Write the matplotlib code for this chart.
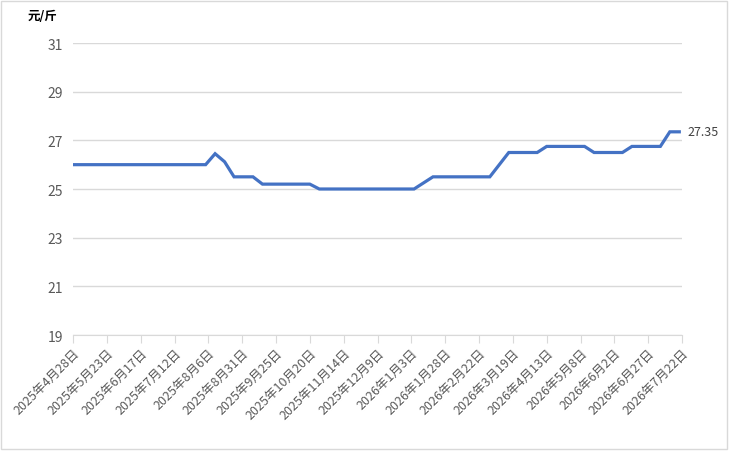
import matplotlib
matplotlib.use('Agg')
import matplotlib.pyplot as plt
import pandas as pd
from matplotlib.patches import Rectangle

plt.rcParams['font.family'] = ['Noto Sans CJK SC', 'DejaVu Sans']

# weekly prices (元/斤)
start_date = '2025-04-28'
end_date = '2026-07-22'
prices = [26.0] * 15 + [26.45, 26.12] + [25.5] * 3 + [25.2] * 6 + [25.0] * 11 + [25.25] \
    + [25.5] * 7 + [26.0] + [26.5] * 4 + [26.75] * 5 + [26.5] * 4 + [26.75] * 4 + [27.35] * 2
dates = pd.date_range(start_date, periods=len(prices), freq='7D')

tick_dates = pd.date_range(start_date, end_date, freq='25D')
tick_labels = [f'{d.year}年{d.month}月{d.day}日' for d in tick_dates]
y_ticks = [19, 21, 23, 25, 27, 29, 31]

fig = plt.figure(figsize=(7.3, 4.52), dpi=100)
ax = fig.add_axes([73 / 730, 1 - 336 / 452, (682 - 73) / 730, (336 - 44) / 452])

ax.plot(dates, prices, color='#4472C4', lw=2.3, solid_joinstyle='miter')

ax.set_ylim(19, 31)
ax.set_yticks(y_ticks)
ax.set_xlim(pd.Timestamp(start_date), pd.Timestamp(end_date))
ax.set_xticks(tick_dates)
ax.set_xticklabels(tick_labels, rotation=45, ha='right', va='top', rotation_mode='anchor')

ax.grid(axis='y', color='#d9d9d9', lw=1)
ax.set_axisbelow(True)
for s in ['left', 'right', 'top']:
    ax.spines[s].set_visible(False)
ax.spines['bottom'].set_color('#d9d9d9')
ax.tick_params(axis='y', length=0, pad=7, labelsize=10, labelcolor='#595959')
ax.tick_params(axis='x', length=6, color='#d9d9d9', labelsize=9, labelcolor='#595959', pad=2)

ax.annotate(f'{prices[-1]:.2f}', xy=(dates[-1], prices[-1]), xytext=(6, 0),
            textcoords='offset points', va='center', ha='left', fontsize=9, color='#404040')

fig.text(28 / 730, 1 - 17 / 452, '元/斤', fontsize=9, fontweight='bold', va='center', ha='left')

fig.patches.append(Rectangle((0.002, 0.004), 0.994, 0.992, transform=fig.transFigure,
                             fill=False, edgecolor='#d9d9d9', lw=1))

fig.savefig('out.png', dpi=100)
